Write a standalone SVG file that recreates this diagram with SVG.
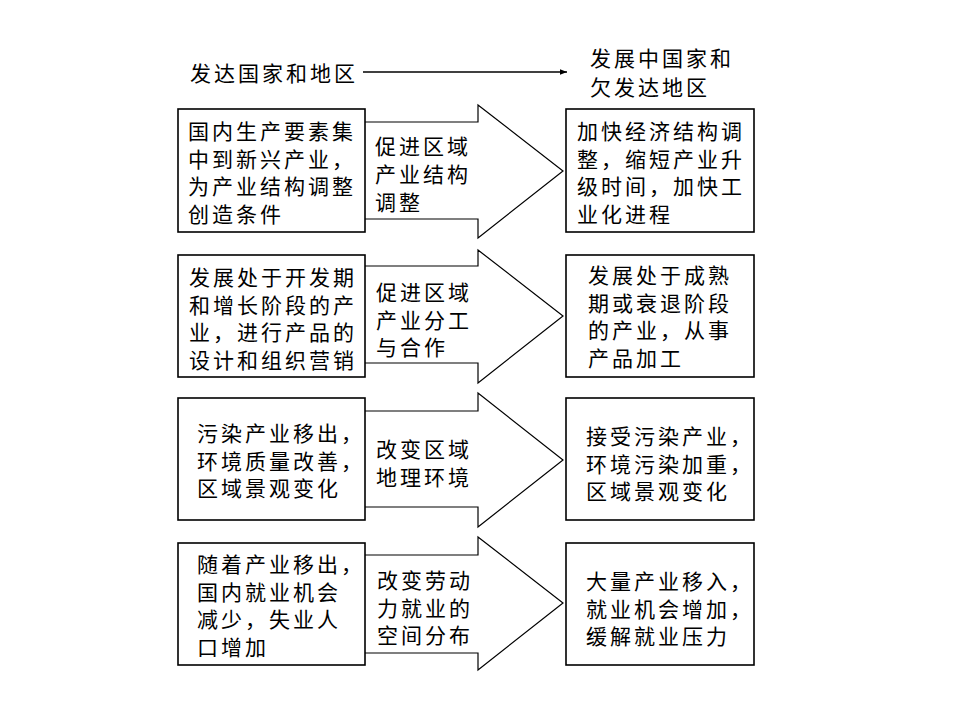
<svg xmlns="http://www.w3.org/2000/svg" width="960" height="720" viewBox="0 0 960 720">
<defs>
<style>
.t{font-family:"Noto Sans CJK SC","Noto Sans CJK TC",sans-serif;font-size:21px;letter-spacing:3px;fill:#000}
.box{fill:#fff;stroke:#000;stroke-width:1.6}
.arr{fill:none;stroke:#000;stroke-width:1.2;stroke-linejoin:miter}
</style>
<marker id="ah" viewBox="0 0 10 10" refX="10" refY="5" markerWidth="9" markerHeight="7" markerUnits="userSpaceOnUse" orient="auto">
<path d="M0,1 L10,5 L0,9 z" fill="#000"/>
</marker>
</defs>
<rect width="960" height="720" fill="#fff"/>

<g id="connectors">
<line x1="363" y1="72" x2="567" y2="72" stroke="#000" stroke-width="1.6" marker-end="url(#ah)"/>
<polyline class="arr" points="365,122 478,122 478,105 563,171 478,238 478,219 365,219"/>
<polyline class="arr" points="365,266 478,266 478,250 563,316 478,383 478,363 365,363"/>
<polyline class="arr" points="365,411 478,411 478,393 563,460 478,527 478,507 365,507"/>
<polyline class="arr" points="365,555 478,555 478,537 563,603 478,670 478,653 365,653"/>
</g>

<g id="title-left"><text class="t" x="190" y="81">发达国家和地区</text></g>
<g id="title-right"><text class="t" x="590" y="66">发展中国家和<tspan x="590" dy="29">欠发达地区</tspan></text></g>

<g id="left1">
<rect class="box" x="178" y="109" width="187" height="123"/>
<text class="t" x="188" y="139">国内生产要素集<tspan x="188" dy="27.6">中到新兴产业，</tspan><tspan x="188" dy="27.6">为产业结构调整</tspan><tspan x="188" dy="27.6">创造条件</tspan></text>
</g>
<g id="mid1"><text class="t" x="375" y="154">促进区域<tspan x="375" dy="28">产业结构</tspan><tspan x="375" dy="28">调整</tspan></text></g>
<g id="right1">
<rect class="box" x="566" y="109" width="188" height="123"/>
<text class="t" x="577" y="139">加快经济结构调<tspan x="577" dy="27.6">整，缩短产业升</tspan><tspan x="577" dy="27.6">级时间，加快工</tspan><tspan x="577" dy="27.6">业化进程</tspan></text>
</g>

<g id="left2">
<rect class="box" x="178" y="255" width="187" height="122"/>
<text class="t" x="189" y="285">发展处于开发期<tspan x="189" dy="27.6">和增长阶段的产</tspan><tspan x="189" dy="27.6">业，进行产品的</tspan><tspan x="189" dy="27.6">设计和组织营销</tspan></text>
</g>
<g id="mid2"><text class="t" x="376" y="300">促进区域<tspan x="376" dy="27.6">产业分工</tspan><tspan x="376" dy="27.6">与合作</tspan></text></g>
<g id="right2">
<rect class="box" x="566" y="255" width="188" height="122"/>
<text class="t" x="588" y="283">发展处于成熟<tspan x="588" dy="27.6">期或衰退阶段</tspan><tspan x="588" dy="27.6">的产业，从事</tspan><tspan x="588" dy="27.6">产品加工</tspan></text>
</g>

<g id="left3">
<rect class="box" x="178" y="398" width="187" height="122"/>
<text class="t" x="197" y="441">污染产业移出，<tspan x="197" dy="27.7">环境质量改善，</tspan><tspan x="197" dy="27.7">区域景观变化</tspan></text>
</g>
<g id="mid3"><text class="t" x="376" y="457">改变区域<tspan x="376" dy="28">地理环境</tspan></text></g>
<g id="right3">
<rect class="box" x="566" y="398" width="188" height="122"/>
<text class="t" x="586" y="444">接受污染产业，<tspan x="586" dy="27.7">环境污染加重，</tspan><tspan x="586" dy="27.7">区域景观变化</tspan></text>
</g>

<g id="left4">
<rect class="box" x="178" y="543" width="187" height="122"/>
<text class="t" x="197" y="572">随着产业移出，<tspan x="197" dy="27.7">国内就业机会</tspan><tspan x="197" dy="27.7">减少，失业人</tspan><tspan x="197" dy="27.7">口增加</tspan></text>
</g>
<g id="mid4"><text class="t" x="377" y="588">改变劳动<tspan x="377" dy="27.6">力就业的</tspan><tspan x="377" dy="27.6">空间分布</tspan></text></g>
<g id="right4">
<rect class="box" x="566" y="543" width="188" height="122"/>
<text class="t" x="586" y="589">大量产业移入，<tspan x="586" dy="27.6">就业机会增加，</tspan><tspan x="586" dy="27.6">缓解就业压力</tspan></text>
</g>
</svg>
